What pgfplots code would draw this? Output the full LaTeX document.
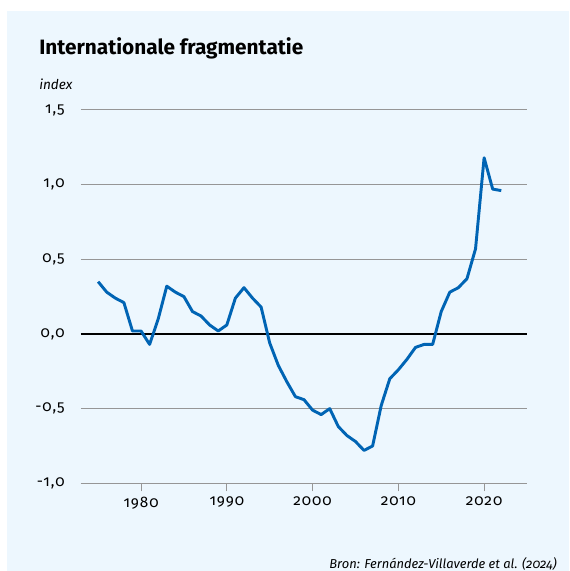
\documentclass[border=0pt]{standalone}
\usepackage{fontspec}
\setmainfont{Fira Sans}[Numbers=OldStyle]
\newfontfamily\tickfont{Fira Sans}[Numbers=OldStyle, LetterSpace=6]
\usepackage{pgfplots}
\pgfplotsset{compat=1.18}

\definecolor{bgblue}{RGB}{237,247,254}
\definecolor{lineblue}{RGB}{0,100,180}
\definecolor{gridgray}{RGB}{150,150,150}

\begin{document}
\begin{tikzpicture}[x=0.75pt,y=0.75pt]
% canvas 569 x 571 px, origin bottom left
\useasboundingbox (0,0) rectangle (569,571);
\fill[white] (0,0) rectangle (569,571);
\fill[bgblue] (7,0) rectangle (569,560);
\node[anchor=base west, inner sep=0] at (39,516) {\resizebox{198pt}{!}{\bfseries Internationale fragmentatie}};
\node[anchor=base west, inner sep=0, font=\itshape\fontsize{10.2}{12}\selectfont] at (39,481) {index};
\node[anchor=base east, inner sep=0, font=\itshape\fontsize{9.7}{12}\selectfont] at (557,2.5) {Bron: Fernández-Villaverde et al. (2024)};

\begin{axis}[
    at={(60.75pt,65.78pt)}, anchor=south west,
    scale only axis,
    width=334.5pt, height=280pt,
    xmin=1973, xmax=2025,
    ymin=-1, ymax=1.5,
    axis x line*=bottom, axis y line*=left,
    y axis line style={draw=none},
    x axis line style={gridgray, line width=0.75pt},
    xtick={1980,1990,2000,2010,2020},
    ytick={-1,-0.5,0,0.5,1,1.5},
    ytick style={draw=none},
    xtick style={gridgray, line width=0.75pt},
    major tick length=6pt,
    tick align=outside,
    ymajorgrids,
    major grid style={gridgray, line width=0.75pt},
    extra y ticks={0},
    extra y tick labels={},
    extra y tick style={major grid style={black, line width=1.5pt}},
    /pgf/number format/assume math mode=true,
    xticklabel style={/pgf/number format/1000 sep={}, font=\tickfont\fontsize{11.5}{12}\selectfont, inner sep=0pt, yshift=-4pt},
    yticklabel style={/pgf/number format/.cd, fixed, fixed zerofill, precision=1, use comma, /tikz/.cd, font=\tickfont\fontsize{11.5}{12}\selectfont, inner sep=0pt, xshift=-6pt},
]
\addplot[lineblue, line width=2.2pt, line join=round, no marks] coordinates {
(1975,0.35) (1976,0.28) (1977,0.24) (1978,0.21) (1979,0.02) (1980,0.02)
(1981,-0.07) (1982,0.10) (1983,0.32) (1984,0.28) (1985,0.25) (1986,0.15)
(1987,0.12) (1988,0.06) (1989,0.02) (1990,0.06) (1991,0.24) (1992,0.31)
(1993,0.24) (1994,0.18) (1995,-0.06) (1996,-0.21) (1997,-0.32) (1998,-0.42)
(1999,-0.44) (2000,-0.51) (2001,-0.54) (2002,-0.50) (2003,-0.62) (2004,-0.68)
(2005,-0.72) (2006,-0.78) (2007,-0.75) (2008,-0.48) (2009,-0.30) (2010,-0.24)
(2011,-0.17) (2012,-0.09) (2013,-0.07) (2014,-0.07) (2015,0.15) (2016,0.28)
(2017,0.31) (2018,0.37) (2019,0.57) (2020,1.18) (2021,0.97) (2022,0.96)
};
\end{axis}
\end{tikzpicture}
\end{document}
